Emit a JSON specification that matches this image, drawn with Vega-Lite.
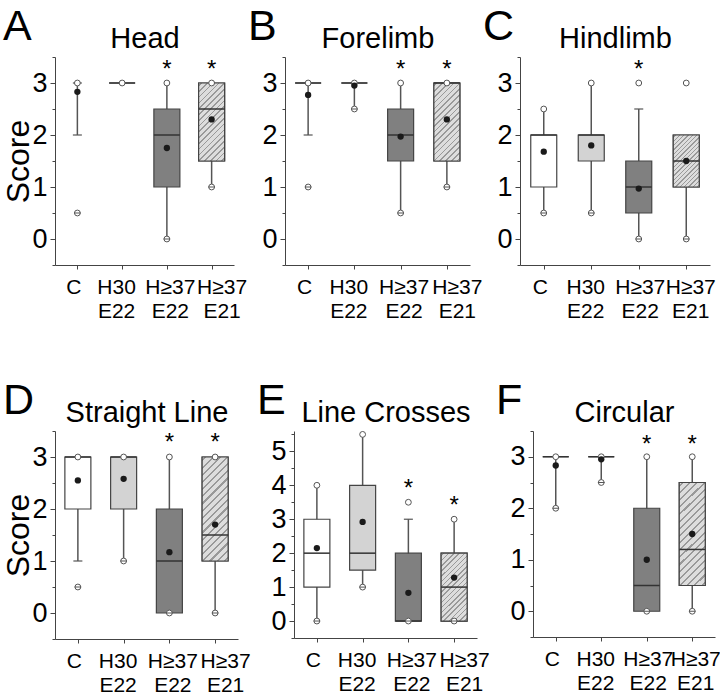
{
"$schema": "https://vega.github.io/schema/vega-lite/v6.json",
"padding": {"left": 2, "top": 6, "right": 0, "bottom": 0},
"config": {"font": "Liberation Sans", "view": {"stroke": null}, "axis": {"grid": false, "labelFont": "Liberation Sans", "titleFont": "Liberation Sans"}, "title": {"font": "Liberation Sans", "fontWeight": "normal", "color": "#000"}},
"datasets": {
"whisk": [
{"panel":"A","group":"C","lo":2,"hi":3},{"panel":"A","group":"H≥37 E22","lo":0,"hi":3},{"panel":"A","group":"H≥37 E21","lo":1,"hi":3},
{"panel":"B","group":"C","lo":2,"hi":3},{"panel":"B","group":"H30 E22","lo":2.5,"hi":3},{"panel":"B","group":"H≥37 E22","lo":0.5,"hi":3},{"panel":"B","group":"H≥37 E21","lo":1,"hi":3},
{"panel":"C","group":"C","lo":0.5,"hi":2.5},{"panel":"C","group":"H30 E22","lo":0.5,"hi":3},{"panel":"C","group":"H≥37 E22","lo":0,"hi":2.5},{"panel":"C","group":"H≥37 E21","lo":0,"hi":2},
{"panel":"D","group":"C","lo":1,"hi":3},{"panel":"D","group":"H30 E22","lo":1,"hi":3},{"panel":"D","group":"H≥37 E22","lo":0,"hi":3},{"panel":"D","group":"H≥37 E21","lo":0,"hi":3},
{"panel":"E","group":"C","lo":0,"hi":4},{"panel":"E","group":"H30 E22","lo":1,"hi":5.5},{"panel":"E","group":"H≥37 E22","lo":0,"hi":3},{"panel":"E","group":"H≥37 E21","lo":0,"hi":3},
{"panel":"F","group":"C","lo":2,"hi":3},{"panel":"F","group":"H30 E22","lo":2.5,"hi":3},{"panel":"F","group":"H≥37 E22","lo":0,"hi":3},{"panel":"F","group":"H≥37 E21","lo":0,"hi":3}
],
"box": [
{"panel":"A","group":"H30 E22","q1":3,"median":3,"q3":3},{"panel":"A","group":"H≥37 E22","q1":1,"median":2,"q3":2.5},{"panel":"A","group":"H≥37 E21","q1":1.5,"median":2.5,"q3":3},
{"panel":"B","group":"C","q1":3,"median":3,"q3":3},{"panel":"B","group":"H30 E22","q1":3,"median":3,"q3":3},{"panel":"B","group":"H≥37 E22","q1":1.5,"median":2,"q3":2.5},{"panel":"B","group":"H≥37 E21","q1":1.5,"median":3,"q3":3},
{"panel":"C","group":"C","q1":1,"median":2,"q3":2},{"panel":"C","group":"H30 E22","q1":1.5,"median":2,"q3":2},{"panel":"C","group":"H≥37 E22","q1":0.5,"median":1,"q3":1.5},{"panel":"C","group":"H≥37 E21","q1":1,"median":1.5,"q3":2},
{"panel":"D","group":"C","q1":2,"median":3,"q3":3},{"panel":"D","group":"H30 E22","q1":2,"median":3,"q3":3},{"panel":"D","group":"H≥37 E22","q1":0,"median":1,"q3":2},{"panel":"D","group":"H≥37 E21","q1":1,"median":1.5,"q3":3},
{"panel":"E","group":"C","q1":1,"median":2,"q3":3},{"panel":"E","group":"H30 E22","q1":1.5,"median":2,"q3":4},{"panel":"E","group":"H≥37 E22","q1":0,"median":0,"q3":2},{"panel":"E","group":"H≥37 E21","q1":0,"median":1,"q3":2},
{"panel":"F","group":"C","q1":3,"median":3,"q3":3},{"panel":"F","group":"H30 E22","q1":3,"median":3,"q3":3},{"panel":"F","group":"H≥37 E22","q1":0,"median":0.5,"q3":2},{"panel":"F","group":"H≥37 E21","q1":0.5,"median":1.2,"q3":2.5}
],
"caps": [
{"panel":"A","group":"C","v":2},{"panel":"A","group":"C","v":3},{"panel":"B","group":"C","v":2},{"panel":"C","group":"H≥37 E22","v":2.5},{"panel":"D","group":"C","v":1},{"panel":"E","group":"H≥37 E22","v":3}
],
"pts": [
{"panel":"A","group":"C","v":3,"side":"hi"},{"panel":"A","group":"C","v":0.5,"side":"lo"},{"panel":"A","group":"H30 E22","v":3,"side":"hi"},{"panel":"A","group":"H≥37 E22","v":3,"side":"hi"},{"panel":"A","group":"H≥37 E22","v":0,"side":"lo"},{"panel":"A","group":"H≥37 E21","v":3,"side":"hi"},{"panel":"A","group":"H≥37 E21","v":1,"side":"lo"},
{"panel":"B","group":"C","v":3,"side":"hi"},{"panel":"B","group":"C","v":1,"side":"lo"},{"panel":"B","group":"H30 E22","v":3,"side":"hi"},{"panel":"B","group":"H30 E22","v":2.5,"side":"lo"},{"panel":"B","group":"H≥37 E22","v":3,"side":"hi"},{"panel":"B","group":"H≥37 E22","v":0.5,"side":"lo"},{"panel":"B","group":"H≥37 E21","v":3,"side":"hi"},{"panel":"B","group":"H≥37 E21","v":1,"side":"lo"},
{"panel":"C","group":"C","v":2.5,"side":"hi"},{"panel":"C","group":"C","v":0.5,"side":"lo"},{"panel":"C","group":"H30 E22","v":3,"side":"hi"},{"panel":"C","group":"H30 E22","v":0.5,"side":"lo"},{"panel":"C","group":"H≥37 E22","v":3,"side":"hi"},{"panel":"C","group":"H≥37 E22","v":0,"side":"lo"},{"panel":"C","group":"H≥37 E21","v":3,"side":"hi"},{"panel":"C","group":"H≥37 E21","v":0,"side":"lo"},
{"panel":"D","group":"C","v":3,"side":"hi"},{"panel":"D","group":"C","v":0.5,"side":"lo"},{"panel":"D","group":"H30 E22","v":3,"side":"hi"},{"panel":"D","group":"H30 E22","v":1,"side":"lo"},{"panel":"D","group":"H≥37 E22","v":3,"side":"hi"},{"panel":"D","group":"H≥37 E22","v":0,"side":"lo"},{"panel":"D","group":"H≥37 E21","v":3,"side":"hi"},{"panel":"D","group":"H≥37 E21","v":0,"side":"lo"},
{"panel":"E","group":"C","v":4,"side":"hi"},{"panel":"E","group":"C","v":0,"side":"lo"},{"panel":"E","group":"H30 E22","v":5.5,"side":"hi"},{"panel":"E","group":"H30 E22","v":1,"side":"lo"},{"panel":"E","group":"H≥37 E22","v":3.5,"side":"hi"},{"panel":"E","group":"H≥37 E22","v":0,"side":"lo"},{"panel":"E","group":"H≥37 E21","v":3,"side":"hi"},{"panel":"E","group":"H≥37 E21","v":0,"side":"lo"},
{"panel":"F","group":"C","v":3,"side":"hi"},{"panel":"F","group":"C","v":2,"side":"lo"},{"panel":"F","group":"H30 E22","v":3,"side":"hi"},{"panel":"F","group":"H30 E22","v":2.5,"side":"lo"},{"panel":"F","group":"H≥37 E22","v":3,"side":"hi"},{"panel":"F","group":"H≥37 E22","v":0,"side":"lo"},{"panel":"F","group":"H≥37 E21","v":3,"side":"hi"},{"panel":"F","group":"H≥37 E21","v":0,"side":"lo"}
],
"mean": [
{"panel":"A","group":"C","mean":2.83},{"panel":"A","group":"H≥37 E22","mean":1.75},{"panel":"A","group":"H≥37 E21","mean":2.3},
{"panel":"B","group":"C","mean":2.77},{"panel":"B","group":"H30 E22","mean":2.95},{"panel":"B","group":"H≥37 E22","mean":1.97},{"panel":"B","group":"H≥37 E21","mean":2.3},
{"panel":"C","group":"C","mean":1.68},{"panel":"C","group":"H30 E22","mean":1.8},{"panel":"C","group":"H≥37 E22","mean":0.97},{"panel":"C","group":"H≥37 E21","mean":1.5},
{"panel":"D","group":"C","mean":2.55},{"panel":"D","group":"H30 E22","mean":2.58},{"panel":"D","group":"H≥37 E22","mean":1.17},{"panel":"D","group":"H≥37 E21","mean":1.7},
{"panel":"E","group":"C","mean":2.15},{"panel":"E","group":"H30 E22","mean":2.92},{"panel":"E","group":"H≥37 E22","mean":0.83},{"panel":"E","group":"H≥37 E21","mean":1.28},
{"panel":"F","group":"C","mean":2.83},{"panel":"F","group":"H30 E22","mean":2.95},{"panel":"F","group":"H≥37 E22","mean":1.0},{"panel":"F","group":"H≥37 E21","mean":1.5}
],
"sig": [
{"panel":"A","group":"H≥37 E22","y":3.35},{"panel":"A","group":"H≥37 E21","y":3.35},
{"panel":"B","group":"H≥37 E22","y":3.35},{"panel":"B","group":"H≥37 E21","y":3.35},
{"panel":"C","group":"H≥37 E22","y":3.35},
{"panel":"D","group":"H≥37 E22","y":3.36},{"panel":"D","group":"H≥37 E21","y":3.36},
{"panel":"E","group":"H≥37 E22","y":4.05},{"panel":"E","group":"H≥37 E21","y":3.55},
{"panel":"F","group":"H≥37 E22","y":3.33},{"panel":"F","group":"H≥37 E21","y":3.33}
]
},
"vconcat": [
{"hconcat": [
{"width":179,"height":208,
"title":{"text":"A","anchor":"start","frame":"bounds","fontSize":43,"baseline":"alphabetic","offset":-15,"dx":0,"dy":44},
"layer":[
{"data":{"name":"whisk"},"transform":[{"filter":"datum.panel==='A'"}],"mark":{"type":"rule","color":"#555","strokeWidth":1.5},
"encoding":{"x":{"field":"group","type":"nominal","scale":{"type":"point","padding":0.5,"domain":["C","H30 E22","H≥37 E22","H≥37 E21"]},"axis":{"title":null,"labelExpr":"split(datum.label, ' ')","labelFontSize":21,"labelColor":"#000","labelPadding":7,"labelLineHeight":24,"labelOffset":{"condition":[{"test":"datum.value==='C'","value":-4},{"test":"datum.value==='H30 E22'","value":-6},{"test":"datum.value==='H≥37 E22'","value":3}],"value":10},"tickSize":4,"tickColor":"#444","domainColor":"#444","labelAngle":0,"labelOverlap":false,"labelBound":false,"labelFlush":false}},
"y":{"field":"lo","type":"quantitative","scale":{"domain":[-0.5,3.5],"nice":false,"zero":false},"axis":{"values":[0,1,2,3],"title":"Score","titleFontSize":32,"titleFontWeight":"normal","titleColor":"#000","titlePadding":-4,"labelFontSize":27,"labelColor":"#000","labelPadding":3,"tickSize":5,"tickColor":"#444","domainColor":"#444"}},
"y2":{"field":"hi"}}},
{"data":{"name":"box"},"transform":[{"filter":"datum.panel==='A'"}],"mark":{"type":"bar","size":26,"stroke":"#444","strokeWidth":1.2},
"encoding":{"x":{"field":"group","type":"nominal","axis":null},"y":{"field":"q1","type":"quantitative","axis":null},"y2":{"field":"q3"},"fill":{"field":"group","type":"nominal","scale":{"domain":["C","H30 E22","H≥37 E22","H≥37 E21"],"range":["#ffffff","#d3d3d3","#808080","#dddddd"]},"legend":null}}},
{"data":{"name":"box"},"transform":[{"filter":"datum.panel==='A' && datum.group==='H≥37 E21'"}],"mark":{"type":"bar","size":26,"stroke":"#444","strokeWidth":1.2,"fill":{"gradient":"linear","x1":0,"y1":0,"x2":0.4,"y2":1.2,"stops":[{"offset":0,"color":"#ddd"},{"offset":0.020,"color":"#ddd"},{"offset":0.020,"color":"#999"},{"offset":0.036,"color":"#999"},{"offset":0.036,"color":"#ddd"},{"offset":0.076,"color":"#ddd"},{"offset":0.076,"color":"#999"},{"offset":0.092,"color":"#999"},{"offset":0.092,"color":"#ddd"},{"offset":0.131,"color":"#ddd"},{"offset":0.131,"color":"#999"},{"offset":0.147,"color":"#999"},{"offset":0.147,"color":"#ddd"},{"offset":0.187,"color":"#ddd"},{"offset":0.187,"color":"#999"},{"offset":0.203,"color":"#999"},{"offset":0.203,"color":"#ddd"},{"offset":0.242,"color":"#ddd"},{"offset":0.242,"color":"#999"},{"offset":0.258,"color":"#999"},{"offset":0.258,"color":"#ddd"},{"offset":0.298,"color":"#ddd"},{"offset":0.298,"color":"#999"},{"offset":0.314,"color":"#999"},{"offset":0.314,"color":"#ddd"},{"offset":0.353,"color":"#ddd"},{"offset":0.353,"color":"#999"},{"offset":0.369,"color":"#999"},{"offset":0.369,"color":"#ddd"},{"offset":0.409,"color":"#ddd"},{"offset":0.409,"color":"#999"},{"offset":0.425,"color":"#999"},{"offset":0.425,"color":"#ddd"},{"offset":0.464,"color":"#ddd"},{"offset":0.464,"color":"#999"},{"offset":0.480,"color":"#999"},{"offset":0.480,"color":"#ddd"},{"offset":0.520,"color":"#ddd"},{"offset":0.520,"color":"#999"},{"offset":0.536,"color":"#999"},{"offset":0.536,"color":"#ddd"},{"offset":0.576,"color":"#ddd"},{"offset":0.576,"color":"#999"},{"offset":0.592,"color":"#999"},{"offset":0.592,"color":"#ddd"},{"offset":0.631,"color":"#ddd"},{"offset":0.631,"color":"#999"},{"offset":0.647,"color":"#999"},{"offset":0.647,"color":"#ddd"},{"offset":0.687,"color":"#ddd"},{"offset":0.687,"color":"#999"},{"offset":0.703,"color":"#999"},{"offset":0.703,"color":"#ddd"},{"offset":0.742,"color":"#ddd"},{"offset":0.742,"color":"#999"},{"offset":0.758,"color":"#999"},{"offset":0.758,"color":"#ddd"},{"offset":0.798,"color":"#ddd"},{"offset":0.798,"color":"#999"},{"offset":0.814,"color":"#999"},{"offset":0.814,"color":"#ddd"},{"offset":0.853,"color":"#ddd"},{"offset":0.853,"color":"#999"},{"offset":0.869,"color":"#999"},{"offset":0.869,"color":"#ddd"},{"offset":0.909,"color":"#ddd"},{"offset":0.909,"color":"#999"},{"offset":0.925,"color":"#999"},{"offset":0.925,"color":"#ddd"},{"offset":0.964,"color":"#ddd"},{"offset":0.964,"color":"#999"},{"offset":0.980,"color":"#999"},{"offset":0.980,"color":"#ddd"},{"offset":1,"color":"#ddd"}]}},
"encoding":{"x":{"field":"group","type":"nominal","axis":null},"y":{"field":"q1","type":"quantitative","axis":null},"y2":{"field":"q3"}}},
{"data":{"name":"box"},"transform":[{"filter":"datum.panel==='A'"}],"mark":{"type":"tick","size":26,"thickness":1.5,"color":"#333","orient":"horizontal","opacity":1},
"encoding":{"x":{"field":"group","type":"nominal","axis":null},"y":{"field":"median","type":"quantitative","axis":null}}},
{"data":{"name":"caps"},"transform":[{"filter":"datum.panel==='A'"}],"mark":{"type":"tick","size":9,"thickness":1.2,"color":"#555","orient":"horizontal","opacity":1},
"encoding":{"x":{"field":"group","type":"nominal","axis":null},"y":{"field":"v","type":"quantitative","axis":null}}},
{"data":{"name":"pts"},"transform":[{"filter":"datum.panel==='A'"}],"mark":{"type":"point","shape":"circle","filled":true,"fill":"#fff","stroke":"#555","strokeWidth":1,"size":34,"opacity":1},
"encoding":{"x":{"field":"group","type":"nominal","axis":null},"y":{"field":"v","type":"quantitative","axis":null}}},
{"data":{"name":"pts"},"transform":[{"filter":"datum.panel==='A' && datum.side==='lo'"}],"mark":{"type":"tick","size":6.5,"thickness":1,"color":"#555","orient":"horizontal","opacity":1},
"encoding":{"x":{"field":"group","type":"nominal","axis":null},"y":{"field":"v","type":"quantitative","axis":null}}},
{"data":{"name":"mean"},"transform":[{"filter":"datum.panel==='A'"}],"mark":{"type":"point","shape":"circle","filled":true,"color":"#1a1a1a","size":40,"opacity":1},
"encoding":{"x":{"field":"group","type":"nominal","axis":null},"y":{"field":"mean","type":"quantitative","axis":{"orient":"left","values":[-0.5,0.5,1.5,2.5,3.5],"labels":false,"tickSize":3,"tickColor":"#444","domain":false,"title":null}}}},
{"data":{"name":"sig"},"transform":[{"filter":"datum.panel==='A'"}],"mark":{"type":"text","text":"*","fontSize":24,"dy":5,"color":"#000"},
"encoding":{"x":{"field":"group","type":"nominal","axis":{"orient":"top","title":"Head","titleFontSize":29,"titleFontWeight":"normal","titleColor":"#000","titlePadding":4,"labels":false,"ticks":false,"domain":false}},"y":{"field":"y","type":"quantitative","axis":null}}}
],
"resolve":{"axis":{"x":"independent","y":"independent"}}},
{"width":185,"height":208,
"title":{"text":"B","anchor":"start","frame":"bounds","fontSize":43,"baseline":"alphabetic","offset":-15,"dx":-14,"dy":44},
"layer":[
{"data":{"name":"whisk"},"transform":[{"filter":"datum.panel==='B'"}],"mark":{"type":"rule","color":"#555","strokeWidth":1.5},
"encoding":{"x":{"field":"group","type":"nominal","scale":{"type":"point","padding":0.5,"domain":["C","H30 E22","H≥37 E22","H≥37 E21"]},"axis":{"title":null,"labelExpr":"split(datum.label, ' ')","labelFontSize":21,"labelColor":"#000","labelPadding":7,"labelLineHeight":24,"labelOffset":{"condition":[{"test":"datum.value==='C'","value":-4},{"test":"datum.value==='H30 E22'","value":-6},{"test":"datum.value==='H≥37 E22'","value":3}],"value":10},"tickSize":4,"tickColor":"#444","domainColor":"#444","labelAngle":0,"labelOverlap":false,"labelBound":false,"labelFlush":false}},
"y":{"field":"lo","type":"quantitative","scale":{"domain":[-0.5,3.5],"nice":false,"zero":false},"axis":{"values":[0,1,2,3],"title":null,"labelFontSize":27,"labelColor":"#000","labelPadding":3,"tickSize":5,"tickColor":"#444","domainColor":"#444"}},
"y2":{"field":"hi"}}},
{"data":{"name":"box"},"transform":[{"filter":"datum.panel==='B'"}],"mark":{"type":"bar","size":26,"stroke":"#444","strokeWidth":1.2},
"encoding":{"x":{"field":"group","type":"nominal","axis":null},"y":{"field":"q1","type":"quantitative","axis":null},"y2":{"field":"q3"},"fill":{"field":"group","type":"nominal","scale":{"domain":["C","H30 E22","H≥37 E22","H≥37 E21"],"range":["#ffffff","#d3d3d3","#808080","#dddddd"]},"legend":null}}},
{"data":{"name":"box"},"transform":[{"filter":"datum.panel==='B' && datum.group==='H≥37 E21'"}],"mark":{"type":"bar","size":26,"stroke":"#444","strokeWidth":1.2,"fill":{"gradient":"linear","x1":0,"y1":0,"x2":0.4,"y2":1.2,"stops":[{"offset":0,"color":"#ddd"},{"offset":0.020,"color":"#ddd"},{"offset":0.020,"color":"#999"},{"offset":0.036,"color":"#999"},{"offset":0.036,"color":"#ddd"},{"offset":0.076,"color":"#ddd"},{"offset":0.076,"color":"#999"},{"offset":0.092,"color":"#999"},{"offset":0.092,"color":"#ddd"},{"offset":0.131,"color":"#ddd"},{"offset":0.131,"color":"#999"},{"offset":0.147,"color":"#999"},{"offset":0.147,"color":"#ddd"},{"offset":0.187,"color":"#ddd"},{"offset":0.187,"color":"#999"},{"offset":0.203,"color":"#999"},{"offset":0.203,"color":"#ddd"},{"offset":0.242,"color":"#ddd"},{"offset":0.242,"color":"#999"},{"offset":0.258,"color":"#999"},{"offset":0.258,"color":"#ddd"},{"offset":0.298,"color":"#ddd"},{"offset":0.298,"color":"#999"},{"offset":0.314,"color":"#999"},{"offset":0.314,"color":"#ddd"},{"offset":0.353,"color":"#ddd"},{"offset":0.353,"color":"#999"},{"offset":0.369,"color":"#999"},{"offset":0.369,"color":"#ddd"},{"offset":0.409,"color":"#ddd"},{"offset":0.409,"color":"#999"},{"offset":0.425,"color":"#999"},{"offset":0.425,"color":"#ddd"},{"offset":0.464,"color":"#ddd"},{"offset":0.464,"color":"#999"},{"offset":0.480,"color":"#999"},{"offset":0.480,"color":"#ddd"},{"offset":0.520,"color":"#ddd"},{"offset":0.520,"color":"#999"},{"offset":0.536,"color":"#999"},{"offset":0.536,"color":"#ddd"},{"offset":0.576,"color":"#ddd"},{"offset":0.576,"color":"#999"},{"offset":0.592,"color":"#999"},{"offset":0.592,"color":"#ddd"},{"offset":0.631,"color":"#ddd"},{"offset":0.631,"color":"#999"},{"offset":0.647,"color":"#999"},{"offset":0.647,"color":"#ddd"},{"offset":0.687,"color":"#ddd"},{"offset":0.687,"color":"#999"},{"offset":0.703,"color":"#999"},{"offset":0.703,"color":"#ddd"},{"offset":0.742,"color":"#ddd"},{"offset":0.742,"color":"#999"},{"offset":0.758,"color":"#999"},{"offset":0.758,"color":"#ddd"},{"offset":0.798,"color":"#ddd"},{"offset":0.798,"color":"#999"},{"offset":0.814,"color":"#999"},{"offset":0.814,"color":"#ddd"},{"offset":0.853,"color":"#ddd"},{"offset":0.853,"color":"#999"},{"offset":0.869,"color":"#999"},{"offset":0.869,"color":"#ddd"},{"offset":0.909,"color":"#ddd"},{"offset":0.909,"color":"#999"},{"offset":0.925,"color":"#999"},{"offset":0.925,"color":"#ddd"},{"offset":0.964,"color":"#ddd"},{"offset":0.964,"color":"#999"},{"offset":0.980,"color":"#999"},{"offset":0.980,"color":"#ddd"},{"offset":1,"color":"#ddd"}]}},
"encoding":{"x":{"field":"group","type":"nominal","axis":null},"y":{"field":"q1","type":"quantitative","axis":null},"y2":{"field":"q3"}}},
{"data":{"name":"box"},"transform":[{"filter":"datum.panel==='B'"}],"mark":{"type":"tick","size":26,"thickness":1.5,"color":"#333","orient":"horizontal","opacity":1},
"encoding":{"x":{"field":"group","type":"nominal","axis":null},"y":{"field":"median","type":"quantitative","axis":null}}},
{"data":{"name":"caps"},"transform":[{"filter":"datum.panel==='B'"}],"mark":{"type":"tick","size":9,"thickness":1.2,"color":"#555","orient":"horizontal","opacity":1},
"encoding":{"x":{"field":"group","type":"nominal","axis":null},"y":{"field":"v","type":"quantitative","axis":null}}},
{"data":{"name":"pts"},"transform":[{"filter":"datum.panel==='B'"}],"mark":{"type":"point","shape":"circle","filled":true,"fill":"#fff","stroke":"#555","strokeWidth":1,"size":34,"opacity":1},
"encoding":{"x":{"field":"group","type":"nominal","axis":null},"y":{"field":"v","type":"quantitative","axis":null}}},
{"data":{"name":"pts"},"transform":[{"filter":"datum.panel==='B' && datum.side==='lo'"}],"mark":{"type":"tick","size":6.5,"thickness":1,"color":"#555","orient":"horizontal","opacity":1},
"encoding":{"x":{"field":"group","type":"nominal","axis":null},"y":{"field":"v","type":"quantitative","axis":null}}},
{"data":{"name":"mean"},"transform":[{"filter":"datum.panel==='B'"}],"mark":{"type":"point","shape":"circle","filled":true,"color":"#1a1a1a","size":40,"opacity":1},
"encoding":{"x":{"field":"group","type":"nominal","axis":null},"y":{"field":"mean","type":"quantitative","axis":{"orient":"left","values":[-0.5,0.5,1.5,2.5,3.5],"labels":false,"tickSize":3,"tickColor":"#444","domain":false,"title":null}}}},
{"data":{"name":"sig"},"transform":[{"filter":"datum.panel==='B'"}],"mark":{"type":"text","text":"*","fontSize":24,"dy":5,"color":"#000"},
"encoding":{"x":{"field":"group","type":"nominal","axis":{"orient":"top","title":"Forelimb","titleFontSize":29,"titleFontWeight":"normal","titleColor":"#000","titlePadding":4,"labels":false,"ticks":false,"domain":false}},"y":{"field":"y","type":"quantitative","axis":null}}}
],
"resolve":{"axis":{"x":"independent","y":"independent"}}},
{"width":190,"height":208,
"title":{"text":"C","anchor":"start","frame":"bounds","fontSize":43,"baseline":"alphabetic","offset":-15,"dx":-14,"dy":44},
"layer":[
{"data":{"name":"whisk"},"transform":[{"filter":"datum.panel==='C'"}],"mark":{"type":"rule","color":"#555","strokeWidth":1.5},
"encoding":{"x":{"field":"group","type":"nominal","scale":{"type":"point","padding":0.5,"domain":["C","H30 E22","H≥37 E22","H≥37 E21"]},"axis":{"title":null,"labelExpr":"split(datum.label, ' ')","labelFontSize":21,"labelColor":"#000","labelPadding":7,"labelLineHeight":24,"labelOffset":{"condition":[{"test":"datum.value==='C'","value":-4},{"test":"datum.value==='H30 E22'","value":-6},{"test":"datum.value==='H≥37 E22'","value":1}],"value":4},"tickSize":4,"tickColor":"#444","domainColor":"#444","labelAngle":0,"labelOverlap":false,"labelBound":false,"labelFlush":false}},
"y":{"field":"lo","type":"quantitative","scale":{"domain":[-0.5,3.5],"nice":false,"zero":false},"axis":{"values":[0,1,2,3],"title":null,"labelFontSize":27,"labelColor":"#000","labelPadding":3,"tickSize":5,"tickColor":"#444","domainColor":"#444"}},
"y2":{"field":"hi"}}},
{"data":{"name":"box"},"transform":[{"filter":"datum.panel==='C'"}],"mark":{"type":"bar","size":26,"stroke":"#444","strokeWidth":1.2},
"encoding":{"x":{"field":"group","type":"nominal","axis":null},"y":{"field":"q1","type":"quantitative","axis":null},"y2":{"field":"q3"},"fill":{"field":"group","type":"nominal","scale":{"domain":["C","H30 E22","H≥37 E22","H≥37 E21"],"range":["#ffffff","#d3d3d3","#808080","#dddddd"]},"legend":null}}},
{"data":{"name":"box"},"transform":[{"filter":"datum.panel==='C' && datum.group==='H≥37 E21'"}],"mark":{"type":"bar","size":26,"stroke":"#444","strokeWidth":1.2,"fill":{"gradient":"linear","x1":0,"y1":0,"x2":0.6,"y2":1.2,"stops":[{"offset":0,"color":"#ddd"},{"offset":0.020,"color":"#ddd"},{"offset":0.020,"color":"#999"},{"offset":0.036,"color":"#999"},{"offset":0.036,"color":"#ddd"},{"offset":0.076,"color":"#ddd"},{"offset":0.076,"color":"#999"},{"offset":0.092,"color":"#999"},{"offset":0.092,"color":"#ddd"},{"offset":0.131,"color":"#ddd"},{"offset":0.131,"color":"#999"},{"offset":0.147,"color":"#999"},{"offset":0.147,"color":"#ddd"},{"offset":0.187,"color":"#ddd"},{"offset":0.187,"color":"#999"},{"offset":0.203,"color":"#999"},{"offset":0.203,"color":"#ddd"},{"offset":0.242,"color":"#ddd"},{"offset":0.242,"color":"#999"},{"offset":0.258,"color":"#999"},{"offset":0.258,"color":"#ddd"},{"offset":0.298,"color":"#ddd"},{"offset":0.298,"color":"#999"},{"offset":0.314,"color":"#999"},{"offset":0.314,"color":"#ddd"},{"offset":0.353,"color":"#ddd"},{"offset":0.353,"color":"#999"},{"offset":0.369,"color":"#999"},{"offset":0.369,"color":"#ddd"},{"offset":0.409,"color":"#ddd"},{"offset":0.409,"color":"#999"},{"offset":0.425,"color":"#999"},{"offset":0.425,"color":"#ddd"},{"offset":0.464,"color":"#ddd"},{"offset":0.464,"color":"#999"},{"offset":0.480,"color":"#999"},{"offset":0.480,"color":"#ddd"},{"offset":0.520,"color":"#ddd"},{"offset":0.520,"color":"#999"},{"offset":0.536,"color":"#999"},{"offset":0.536,"color":"#ddd"},{"offset":0.576,"color":"#ddd"},{"offset":0.576,"color":"#999"},{"offset":0.592,"color":"#999"},{"offset":0.592,"color":"#ddd"},{"offset":0.631,"color":"#ddd"},{"offset":0.631,"color":"#999"},{"offset":0.647,"color":"#999"},{"offset":0.647,"color":"#ddd"},{"offset":0.687,"color":"#ddd"},{"offset":0.687,"color":"#999"},{"offset":0.703,"color":"#999"},{"offset":0.703,"color":"#ddd"},{"offset":0.742,"color":"#ddd"},{"offset":0.742,"color":"#999"},{"offset":0.758,"color":"#999"},{"offset":0.758,"color":"#ddd"},{"offset":0.798,"color":"#ddd"},{"offset":0.798,"color":"#999"},{"offset":0.814,"color":"#999"},{"offset":0.814,"color":"#ddd"},{"offset":0.853,"color":"#ddd"},{"offset":0.853,"color":"#999"},{"offset":0.869,"color":"#999"},{"offset":0.869,"color":"#ddd"},{"offset":0.909,"color":"#ddd"},{"offset":0.909,"color":"#999"},{"offset":0.925,"color":"#999"},{"offset":0.925,"color":"#ddd"},{"offset":0.964,"color":"#ddd"},{"offset":0.964,"color":"#999"},{"offset":0.980,"color":"#999"},{"offset":0.980,"color":"#ddd"},{"offset":1,"color":"#ddd"}]}},
"encoding":{"x":{"field":"group","type":"nominal","axis":null},"y":{"field":"q1","type":"quantitative","axis":null},"y2":{"field":"q3"}}},
{"data":{"name":"box"},"transform":[{"filter":"datum.panel==='C'"}],"mark":{"type":"tick","size":26,"thickness":1.5,"color":"#333","orient":"horizontal","opacity":1},
"encoding":{"x":{"field":"group","type":"nominal","axis":null},"y":{"field":"median","type":"quantitative","axis":null}}},
{"data":{"name":"caps"},"transform":[{"filter":"datum.panel==='C'"}],"mark":{"type":"tick","size":9,"thickness":1.2,"color":"#555","orient":"horizontal","opacity":1},
"encoding":{"x":{"field":"group","type":"nominal","axis":null},"y":{"field":"v","type":"quantitative","axis":null}}},
{"data":{"name":"pts"},"transform":[{"filter":"datum.panel==='C'"}],"mark":{"type":"point","shape":"circle","filled":true,"fill":"#fff","stroke":"#555","strokeWidth":1,"size":34,"opacity":1},
"encoding":{"x":{"field":"group","type":"nominal","axis":null},"y":{"field":"v","type":"quantitative","axis":null}}},
{"data":{"name":"pts"},"transform":[{"filter":"datum.panel==='C' && datum.side==='lo'"}],"mark":{"type":"tick","size":6.5,"thickness":1,"color":"#555","orient":"horizontal","opacity":1},
"encoding":{"x":{"field":"group","type":"nominal","axis":null},"y":{"field":"v","type":"quantitative","axis":null}}},
{"data":{"name":"mean"},"transform":[{"filter":"datum.panel==='C'"}],"mark":{"type":"point","shape":"circle","filled":true,"color":"#1a1a1a","size":40,"opacity":1},
"encoding":{"x":{"field":"group","type":"nominal","axis":null},"y":{"field":"mean","type":"quantitative","axis":{"orient":"left","values":[-0.5,0.5,1.5,2.5,3.5],"labels":false,"tickSize":3,"tickColor":"#444","domain":false,"title":null}}}},
{"data":{"name":"sig"},"transform":[{"filter":"datum.panel==='C'"}],"mark":{"type":"text","text":"*","fontSize":24,"dy":5,"color":"#000"},
"encoding":{"x":{"field":"group","type":"nominal","axis":{"orient":"top","title":"Hindlimb","titleFontSize":29,"titleFontWeight":"normal","titleColor":"#000","titlePadding":4,"labels":false,"ticks":false,"domain":false}},"y":{"field":"y","type":"quantitative","axis":null}}}
],
"resolve":{"axis":{"x":"independent","y":"independent"}}}
], "spacing": 0},
{"hconcat": [
{"width":183,"height":208,
"title":{"text":"D","anchor":"start","frame":"bounds","fontSize":43,"baseline":"alphabetic","offset":-15,"dx":0,"dy":44},
"layer":[
{"data":{"name":"whisk"},"transform":[{"filter":"datum.panel==='D'"}],"mark":{"type":"rule","color":"#555","strokeWidth":1.5},
"encoding":{"x":{"field":"group","type":"nominal","scale":{"type":"point","padding":0.5,"domain":["C","H30 E22","H≥37 E22","H≥37 E21"]},"axis":{"title":null,"labelExpr":"split(datum.label, ' ')","labelFontSize":21,"labelColor":"#000","labelPadding":7,"labelLineHeight":24,"labelOffset":{"condition":[{"test":"datum.value==='C'","value":-4},{"test":"datum.value==='H30 E22'","value":-6},{"test":"datum.value==='H≥37 E22'","value":3}],"value":10},"tickSize":4,"tickColor":"#444","domainColor":"#444","labelAngle":0,"labelOverlap":false,"labelBound":false,"labelFlush":false}},
"y":{"field":"lo","type":"quantitative","scale":{"domain":[-0.5,3.5],"nice":false,"zero":false},"axis":{"values":[0,1,2,3],"title":"Score","titleFontSize":32,"titleFontWeight":"normal","titleColor":"#000","titlePadding":-4,"labelFontSize":27,"labelColor":"#000","labelPadding":3,"tickSize":5,"tickColor":"#444","domainColor":"#444"}},
"y2":{"field":"hi"}}},
{"data":{"name":"box"},"transform":[{"filter":"datum.panel==='D'"}],"mark":{"type":"bar","size":26,"stroke":"#444","strokeWidth":1.2},
"encoding":{"x":{"field":"group","type":"nominal","axis":null},"y":{"field":"q1","type":"quantitative","axis":null},"y2":{"field":"q3"},"fill":{"field":"group","type":"nominal","scale":{"domain":["C","H30 E22","H≥37 E22","H≥37 E21"],"range":["#ffffff","#d3d3d3","#808080","#dddddd"]},"legend":null}}},
{"data":{"name":"box"},"transform":[{"filter":"datum.panel==='D' && datum.group==='H≥37 E21'"}],"mark":{"type":"bar","size":26,"stroke":"#444","strokeWidth":1.2,"fill":{"gradient":"linear","x1":0,"y1":0,"x2":0.294,"y2":1.176,"stops":[{"offset":0,"color":"#ddd"},{"offset":0.020,"color":"#ddd"},{"offset":0.020,"color":"#999"},{"offset":0.036,"color":"#999"},{"offset":0.036,"color":"#ddd"},{"offset":0.076,"color":"#ddd"},{"offset":0.076,"color":"#999"},{"offset":0.092,"color":"#999"},{"offset":0.092,"color":"#ddd"},{"offset":0.131,"color":"#ddd"},{"offset":0.131,"color":"#999"},{"offset":0.147,"color":"#999"},{"offset":0.147,"color":"#ddd"},{"offset":0.187,"color":"#ddd"},{"offset":0.187,"color":"#999"},{"offset":0.203,"color":"#999"},{"offset":0.203,"color":"#ddd"},{"offset":0.242,"color":"#ddd"},{"offset":0.242,"color":"#999"},{"offset":0.258,"color":"#999"},{"offset":0.258,"color":"#ddd"},{"offset":0.298,"color":"#ddd"},{"offset":0.298,"color":"#999"},{"offset":0.314,"color":"#999"},{"offset":0.314,"color":"#ddd"},{"offset":0.353,"color":"#ddd"},{"offset":0.353,"color":"#999"},{"offset":0.369,"color":"#999"},{"offset":0.369,"color":"#ddd"},{"offset":0.409,"color":"#ddd"},{"offset":0.409,"color":"#999"},{"offset":0.425,"color":"#999"},{"offset":0.425,"color":"#ddd"},{"offset":0.464,"color":"#ddd"},{"offset":0.464,"color":"#999"},{"offset":0.480,"color":"#999"},{"offset":0.480,"color":"#ddd"},{"offset":0.520,"color":"#ddd"},{"offset":0.520,"color":"#999"},{"offset":0.536,"color":"#999"},{"offset":0.536,"color":"#ddd"},{"offset":0.576,"color":"#ddd"},{"offset":0.576,"color":"#999"},{"offset":0.592,"color":"#999"},{"offset":0.592,"color":"#ddd"},{"offset":0.631,"color":"#ddd"},{"offset":0.631,"color":"#999"},{"offset":0.647,"color":"#999"},{"offset":0.647,"color":"#ddd"},{"offset":0.687,"color":"#ddd"},{"offset":0.687,"color":"#999"},{"offset":0.703,"color":"#999"},{"offset":0.703,"color":"#ddd"},{"offset":0.742,"color":"#ddd"},{"offset":0.742,"color":"#999"},{"offset":0.758,"color":"#999"},{"offset":0.758,"color":"#ddd"},{"offset":0.798,"color":"#ddd"},{"offset":0.798,"color":"#999"},{"offset":0.814,"color":"#999"},{"offset":0.814,"color":"#ddd"},{"offset":0.853,"color":"#ddd"},{"offset":0.853,"color":"#999"},{"offset":0.869,"color":"#999"},{"offset":0.869,"color":"#ddd"},{"offset":0.909,"color":"#ddd"},{"offset":0.909,"color":"#999"},{"offset":0.925,"color":"#999"},{"offset":0.925,"color":"#ddd"},{"offset":0.964,"color":"#ddd"},{"offset":0.964,"color":"#999"},{"offset":0.980,"color":"#999"},{"offset":0.980,"color":"#ddd"},{"offset":1,"color":"#ddd"}]}},
"encoding":{"x":{"field":"group","type":"nominal","axis":null},"y":{"field":"q1","type":"quantitative","axis":null},"y2":{"field":"q3"}}},
{"data":{"name":"box"},"transform":[{"filter":"datum.panel==='D'"}],"mark":{"type":"tick","size":26,"thickness":1.5,"color":"#333","orient":"horizontal","opacity":1},
"encoding":{"x":{"field":"group","type":"nominal","axis":null},"y":{"field":"median","type":"quantitative","axis":null}}},
{"data":{"name":"caps"},"transform":[{"filter":"datum.panel==='D'"}],"mark":{"type":"tick","size":9,"thickness":1.2,"color":"#555","orient":"horizontal","opacity":1},
"encoding":{"x":{"field":"group","type":"nominal","axis":null},"y":{"field":"v","type":"quantitative","axis":null}}},
{"data":{"name":"pts"},"transform":[{"filter":"datum.panel==='D'"}],"mark":{"type":"point","shape":"circle","filled":true,"fill":"#fff","stroke":"#555","strokeWidth":1,"size":34,"opacity":1},
"encoding":{"x":{"field":"group","type":"nominal","axis":null},"y":{"field":"v","type":"quantitative","axis":null}}},
{"data":{"name":"pts"},"transform":[{"filter":"datum.panel==='D' && datum.side==='lo'"}],"mark":{"type":"tick","size":6.5,"thickness":1,"color":"#555","orient":"horizontal","opacity":1},
"encoding":{"x":{"field":"group","type":"nominal","axis":null},"y":{"field":"v","type":"quantitative","axis":null}}},
{"data":{"name":"mean"},"transform":[{"filter":"datum.panel==='D'"}],"mark":{"type":"point","shape":"circle","filled":true,"color":"#1a1a1a","size":40,"opacity":1},
"encoding":{"x":{"field":"group","type":"nominal","axis":null},"y":{"field":"mean","type":"quantitative","axis":{"orient":"left","values":[-0.5,0.5,1.5,2.5,3.5],"labels":false,"tickSize":3,"tickColor":"#444","domain":false,"title":null}}}},
{"data":{"name":"sig"},"transform":[{"filter":"datum.panel==='D'"}],"mark":{"type":"text","text":"*","fontSize":24,"dy":5,"color":"#000"},
"encoding":{"x":{"field":"group","type":"nominal","axis":{"orient":"top","title":"Straight Line","titleFontSize":29,"titleFontWeight":"normal","titleColor":"#000","titlePadding":4,"labels":false,"ticks":false,"domain":false}},"y":{"field":"y","type":"quantitative","axis":null}}}
],
"resolve":{"axis":{"x":"independent","y":"independent"}}},
{"width":183,"height":207,
"title":{"text":"E","anchor":"start","frame":"bounds","fontSize":43,"baseline":"alphabetic","offset":-15,"dx":-14,"dy":44},
"layer":[
{"data":{"name":"whisk"},"transform":[{"filter":"datum.panel==='E'"}],"mark":{"type":"rule","color":"#555","strokeWidth":1.5},
"encoding":{"x":{"field":"group","type":"nominal","scale":{"type":"point","padding":0.5,"domain":["C","H30 E22","H≥37 E22","H≥37 E21"]},"axis":{"title":null,"labelExpr":"split(datum.label, ' ')","labelFontSize":21,"labelColor":"#000","labelPadding":7,"labelLineHeight":24,"labelOffset":{"condition":[{"test":"datum.value==='C'","value":-4},{"test":"datum.value==='H30 E22'","value":-6},{"test":"datum.value==='H≥37 E22'","value":3}],"value":10},"tickSize":4,"tickColor":"#444","domainColor":"#444","labelAngle":0,"labelOverlap":false,"labelBound":false,"labelFlush":false}},
"y":{"field":"lo","type":"quantitative","scale":{"domain":[-0.5,5.6],"nice":false,"zero":false},"axis":{"values":[0,1,2,3,4,5],"title":null,"labelFontSize":27,"labelColor":"#000","labelPadding":3,"tickSize":5,"tickColor":"#444","domainColor":"#444"}},
"y2":{"field":"hi"}}},
{"data":{"name":"box"},"transform":[{"filter":"datum.panel==='E'"}],"mark":{"type":"bar","size":26,"stroke":"#444","strokeWidth":1.2},
"encoding":{"x":{"field":"group","type":"nominal","axis":null},"y":{"field":"q1","type":"quantitative","axis":null},"y2":{"field":"q3"},"fill":{"field":"group","type":"nominal","scale":{"domain":["C","H30 E22","H≥37 E22","H≥37 E21"],"range":["#ffffff","#d3d3d3","#808080","#dddddd"]},"legend":null}}},
{"data":{"name":"box"},"transform":[{"filter":"datum.panel==='E' && datum.group==='H≥37 E21'"}],"mark":{"type":"bar","size":26,"stroke":"#444","strokeWidth":1.2,"fill":{"gradient":"linear","x1":0,"y1":0,"x2":0.461,"y2":1.206,"stops":[{"offset":0,"color":"#ddd"},{"offset":0.020,"color":"#ddd"},{"offset":0.020,"color":"#999"},{"offset":0.036,"color":"#999"},{"offset":0.036,"color":"#ddd"},{"offset":0.076,"color":"#ddd"},{"offset":0.076,"color":"#999"},{"offset":0.092,"color":"#999"},{"offset":0.092,"color":"#ddd"},{"offset":0.131,"color":"#ddd"},{"offset":0.131,"color":"#999"},{"offset":0.147,"color":"#999"},{"offset":0.147,"color":"#ddd"},{"offset":0.187,"color":"#ddd"},{"offset":0.187,"color":"#999"},{"offset":0.203,"color":"#999"},{"offset":0.203,"color":"#ddd"},{"offset":0.242,"color":"#ddd"},{"offset":0.242,"color":"#999"},{"offset":0.258,"color":"#999"},{"offset":0.258,"color":"#ddd"},{"offset":0.298,"color":"#ddd"},{"offset":0.298,"color":"#999"},{"offset":0.314,"color":"#999"},{"offset":0.314,"color":"#ddd"},{"offset":0.353,"color":"#ddd"},{"offset":0.353,"color":"#999"},{"offset":0.369,"color":"#999"},{"offset":0.369,"color":"#ddd"},{"offset":0.409,"color":"#ddd"},{"offset":0.409,"color":"#999"},{"offset":0.425,"color":"#999"},{"offset":0.425,"color":"#ddd"},{"offset":0.464,"color":"#ddd"},{"offset":0.464,"color":"#999"},{"offset":0.480,"color":"#999"},{"offset":0.480,"color":"#ddd"},{"offset":0.520,"color":"#ddd"},{"offset":0.520,"color":"#999"},{"offset":0.536,"color":"#999"},{"offset":0.536,"color":"#ddd"},{"offset":0.576,"color":"#ddd"},{"offset":0.576,"color":"#999"},{"offset":0.592,"color":"#999"},{"offset":0.592,"color":"#ddd"},{"offset":0.631,"color":"#ddd"},{"offset":0.631,"color":"#999"},{"offset":0.647,"color":"#999"},{"offset":0.647,"color":"#ddd"},{"offset":0.687,"color":"#ddd"},{"offset":0.687,"color":"#999"},{"offset":0.703,"color":"#999"},{"offset":0.703,"color":"#ddd"},{"offset":0.742,"color":"#ddd"},{"offset":0.742,"color":"#999"},{"offset":0.758,"color":"#999"},{"offset":0.758,"color":"#ddd"},{"offset":0.798,"color":"#ddd"},{"offset":0.798,"color":"#999"},{"offset":0.814,"color":"#999"},{"offset":0.814,"color":"#ddd"},{"offset":0.853,"color":"#ddd"},{"offset":0.853,"color":"#999"},{"offset":0.869,"color":"#999"},{"offset":0.869,"color":"#ddd"},{"offset":0.909,"color":"#ddd"},{"offset":0.909,"color":"#999"},{"offset":0.925,"color":"#999"},{"offset":0.925,"color":"#ddd"},{"offset":0.964,"color":"#ddd"},{"offset":0.964,"color":"#999"},{"offset":0.980,"color":"#999"},{"offset":0.980,"color":"#ddd"},{"offset":1,"color":"#ddd"}]}},
"encoding":{"x":{"field":"group","type":"nominal","axis":null},"y":{"field":"q1","type":"quantitative","axis":null},"y2":{"field":"q3"}}},
{"data":{"name":"box"},"transform":[{"filter":"datum.panel==='E'"}],"mark":{"type":"tick","size":26,"thickness":1.5,"color":"#333","orient":"horizontal","opacity":1},
"encoding":{"x":{"field":"group","type":"nominal","axis":null},"y":{"field":"median","type":"quantitative","axis":null}}},
{"data":{"name":"caps"},"transform":[{"filter":"datum.panel==='E'"}],"mark":{"type":"tick","size":9,"thickness":1.2,"color":"#555","orient":"horizontal","opacity":1},
"encoding":{"x":{"field":"group","type":"nominal","axis":null},"y":{"field":"v","type":"quantitative","axis":null}}},
{"data":{"name":"pts"},"transform":[{"filter":"datum.panel==='E'"}],"mark":{"type":"point","shape":"circle","filled":true,"fill":"#fff","stroke":"#555","strokeWidth":1,"size":34,"opacity":1},
"encoding":{"x":{"field":"group","type":"nominal","axis":null},"y":{"field":"v","type":"quantitative","axis":null}}},
{"data":{"name":"pts"},"transform":[{"filter":"datum.panel==='E' && datum.side==='lo'"}],"mark":{"type":"tick","size":6.5,"thickness":1,"color":"#555","orient":"horizontal","opacity":1},
"encoding":{"x":{"field":"group","type":"nominal","axis":null},"y":{"field":"v","type":"quantitative","axis":null}}},
{"data":{"name":"mean"},"transform":[{"filter":"datum.panel==='E'"}],"mark":{"type":"point","shape":"circle","filled":true,"color":"#1a1a1a","size":40,"opacity":1},
"encoding":{"x":{"field":"group","type":"nominal","axis":null},"y":{"field":"mean","type":"quantitative","axis":{"orient":"left","values":[-0.5,0.5,1.5,2.5,3.5,4.5,5.5],"labels":false,"tickSize":3,"tickColor":"#444","domain":false,"title":null}}}},
{"data":{"name":"sig"},"transform":[{"filter":"datum.panel==='E'"}],"mark":{"type":"text","text":"*","fontSize":24,"dy":5,"color":"#000"},
"encoding":{"x":{"field":"group","type":"nominal","axis":{"orient":"top","title":"Line Crosses","titleFontSize":29,"titleFontWeight":"normal","titleColor":"#000","titlePadding":4,"labels":false,"ticks":false,"domain":false}},"y":{"field":"y","type":"quantitative","axis":null}}}
],
"resolve":{"axis":{"x":"independent","y":"independent"}}},
{"width":182,"height":206,
"title":{"text":"F","anchor":"start","frame":"bounds","fontSize":43,"baseline":"alphabetic","offset":-15,"dx":-14,"dy":44},
"layer":[
{"data":{"name":"whisk"},"transform":[{"filter":"datum.panel==='F'"}],"mark":{"type":"rule","color":"#555","strokeWidth":1.5},
"encoding":{"x":{"field":"group","type":"nominal","scale":{"type":"point","padding":0.5,"domain":["C","H30 E22","H≥37 E22","H≥37 E21"]},"axis":{"title":null,"labelExpr":"split(datum.label, ' ')","labelFontSize":21,"labelColor":"#000","labelPadding":7,"labelLineHeight":24,"labelOffset":{"condition":[{"test":"datum.value==='C'","value":-4},{"test":"datum.value==='H30 E22'","value":-6},{"test":"datum.value==='H≥37 E22'","value":1}],"value":3},"tickSize":4,"tickColor":"#444","domainColor":"#444","labelAngle":0,"labelOverlap":false,"labelBound":false,"labelFlush":false}},
"y":{"field":"lo","type":"quantitative","scale":{"domain":[-0.5,3.5],"nice":false,"zero":false},"axis":{"values":[0,1,2,3],"title":null,"labelFontSize":27,"labelColor":"#000","labelPadding":3,"tickSize":5,"tickColor":"#444","domainColor":"#444"}},
"y2":{"field":"hi"}}},
{"data":{"name":"box"},"transform":[{"filter":"datum.panel==='F'"}],"mark":{"type":"bar","size":26,"stroke":"#444","strokeWidth":1.2},
"encoding":{"x":{"field":"group","type":"nominal","axis":null},"y":{"field":"q1","type":"quantitative","axis":null},"y2":{"field":"q3"},"fill":{"field":"group","type":"nominal","scale":{"domain":["C","H30 E22","H≥37 E22","H≥37 E21"],"range":["#ffffff","#d3d3d3","#808080","#dddddd"]},"legend":null}}},
{"data":{"name":"box"},"transform":[{"filter":"datum.panel==='F' && datum.group==='H≥37 E21'"}],"mark":{"type":"bar","size":26,"stroke":"#444","strokeWidth":1.2,"fill":{"gradient":"linear","x1":0,"y1":0,"x2":0.294,"y2":1.176,"stops":[{"offset":0,"color":"#ddd"},{"offset":0.020,"color":"#ddd"},{"offset":0.020,"color":"#999"},{"offset":0.036,"color":"#999"},{"offset":0.036,"color":"#ddd"},{"offset":0.076,"color":"#ddd"},{"offset":0.076,"color":"#999"},{"offset":0.092,"color":"#999"},{"offset":0.092,"color":"#ddd"},{"offset":0.131,"color":"#ddd"},{"offset":0.131,"color":"#999"},{"offset":0.147,"color":"#999"},{"offset":0.147,"color":"#ddd"},{"offset":0.187,"color":"#ddd"},{"offset":0.187,"color":"#999"},{"offset":0.203,"color":"#999"},{"offset":0.203,"color":"#ddd"},{"offset":0.242,"color":"#ddd"},{"offset":0.242,"color":"#999"},{"offset":0.258,"color":"#999"},{"offset":0.258,"color":"#ddd"},{"offset":0.298,"color":"#ddd"},{"offset":0.298,"color":"#999"},{"offset":0.314,"color":"#999"},{"offset":0.314,"color":"#ddd"},{"offset":0.353,"color":"#ddd"},{"offset":0.353,"color":"#999"},{"offset":0.369,"color":"#999"},{"offset":0.369,"color":"#ddd"},{"offset":0.409,"color":"#ddd"},{"offset":0.409,"color":"#999"},{"offset":0.425,"color":"#999"},{"offset":0.425,"color":"#ddd"},{"offset":0.464,"color":"#ddd"},{"offset":0.464,"color":"#999"},{"offset":0.480,"color":"#999"},{"offset":0.480,"color":"#ddd"},{"offset":0.520,"color":"#ddd"},{"offset":0.520,"color":"#999"},{"offset":0.536,"color":"#999"},{"offset":0.536,"color":"#ddd"},{"offset":0.576,"color":"#ddd"},{"offset":0.576,"color":"#999"},{"offset":0.592,"color":"#999"},{"offset":0.592,"color":"#ddd"},{"offset":0.631,"color":"#ddd"},{"offset":0.631,"color":"#999"},{"offset":0.647,"color":"#999"},{"offset":0.647,"color":"#ddd"},{"offset":0.687,"color":"#ddd"},{"offset":0.687,"color":"#999"},{"offset":0.703,"color":"#999"},{"offset":0.703,"color":"#ddd"},{"offset":0.742,"color":"#ddd"},{"offset":0.742,"color":"#999"},{"offset":0.758,"color":"#999"},{"offset":0.758,"color":"#ddd"},{"offset":0.798,"color":"#ddd"},{"offset":0.798,"color":"#999"},{"offset":0.814,"color":"#999"},{"offset":0.814,"color":"#ddd"},{"offset":0.853,"color":"#ddd"},{"offset":0.853,"color":"#999"},{"offset":0.869,"color":"#999"},{"offset":0.869,"color":"#ddd"},{"offset":0.909,"color":"#ddd"},{"offset":0.909,"color":"#999"},{"offset":0.925,"color":"#999"},{"offset":0.925,"color":"#ddd"},{"offset":0.964,"color":"#ddd"},{"offset":0.964,"color":"#999"},{"offset":0.980,"color":"#999"},{"offset":0.980,"color":"#ddd"},{"offset":1,"color":"#ddd"}]}},
"encoding":{"x":{"field":"group","type":"nominal","axis":null},"y":{"field":"q1","type":"quantitative","axis":null},"y2":{"field":"q3"}}},
{"data":{"name":"box"},"transform":[{"filter":"datum.panel==='F'"}],"mark":{"type":"tick","size":26,"thickness":1.5,"color":"#333","orient":"horizontal","opacity":1},
"encoding":{"x":{"field":"group","type":"nominal","axis":null},"y":{"field":"median","type":"quantitative","axis":null}}},
{"data":{"name":"caps"},"transform":[{"filter":"datum.panel==='F'"}],"mark":{"type":"tick","size":9,"thickness":1.2,"color":"#555","orient":"horizontal","opacity":1},
"encoding":{"x":{"field":"group","type":"nominal","axis":null},"y":{"field":"v","type":"quantitative","axis":null}}},
{"data":{"name":"pts"},"transform":[{"filter":"datum.panel==='F'"}],"mark":{"type":"point","shape":"circle","filled":true,"fill":"#fff","stroke":"#555","strokeWidth":1,"size":34,"opacity":1},
"encoding":{"x":{"field":"group","type":"nominal","axis":null},"y":{"field":"v","type":"quantitative","axis":null}}},
{"data":{"name":"pts"},"transform":[{"filter":"datum.panel==='F' && datum.side==='lo'"}],"mark":{"type":"tick","size":6.5,"thickness":1,"color":"#555","orient":"horizontal","opacity":1},
"encoding":{"x":{"field":"group","type":"nominal","axis":null},"y":{"field":"v","type":"quantitative","axis":null}}},
{"data":{"name":"mean"},"transform":[{"filter":"datum.panel==='F'"}],"mark":{"type":"point","shape":"circle","filled":true,"color":"#1a1a1a","size":40,"opacity":1},
"encoding":{"x":{"field":"group","type":"nominal","axis":null},"y":{"field":"mean","type":"quantitative","axis":{"orient":"left","values":[-0.5,0.5,1.5,2.5,3.5],"labels":false,"tickSize":3,"tickColor":"#444","domain":false,"title":null}}}},
{"data":{"name":"sig"},"transform":[{"filter":"datum.panel==='F'"}],"mark":{"type":"text","text":"*","fontSize":24,"dy":5,"color":"#000"},
"encoding":{"x":{"field":"group","type":"nominal","axis":{"orient":"top","title":"Circular","titleFontSize":29,"titleFontWeight":"normal","titleColor":"#000","titlePadding":4,"labels":false,"ticks":false,"domain":false}},"y":{"field":"y","type":"quantitative","axis":null}}}
],
"resolve":{"axis":{"x":"independent","y":"independent"}}}
], "spacing": 5}
],
"spacing": 59
}
